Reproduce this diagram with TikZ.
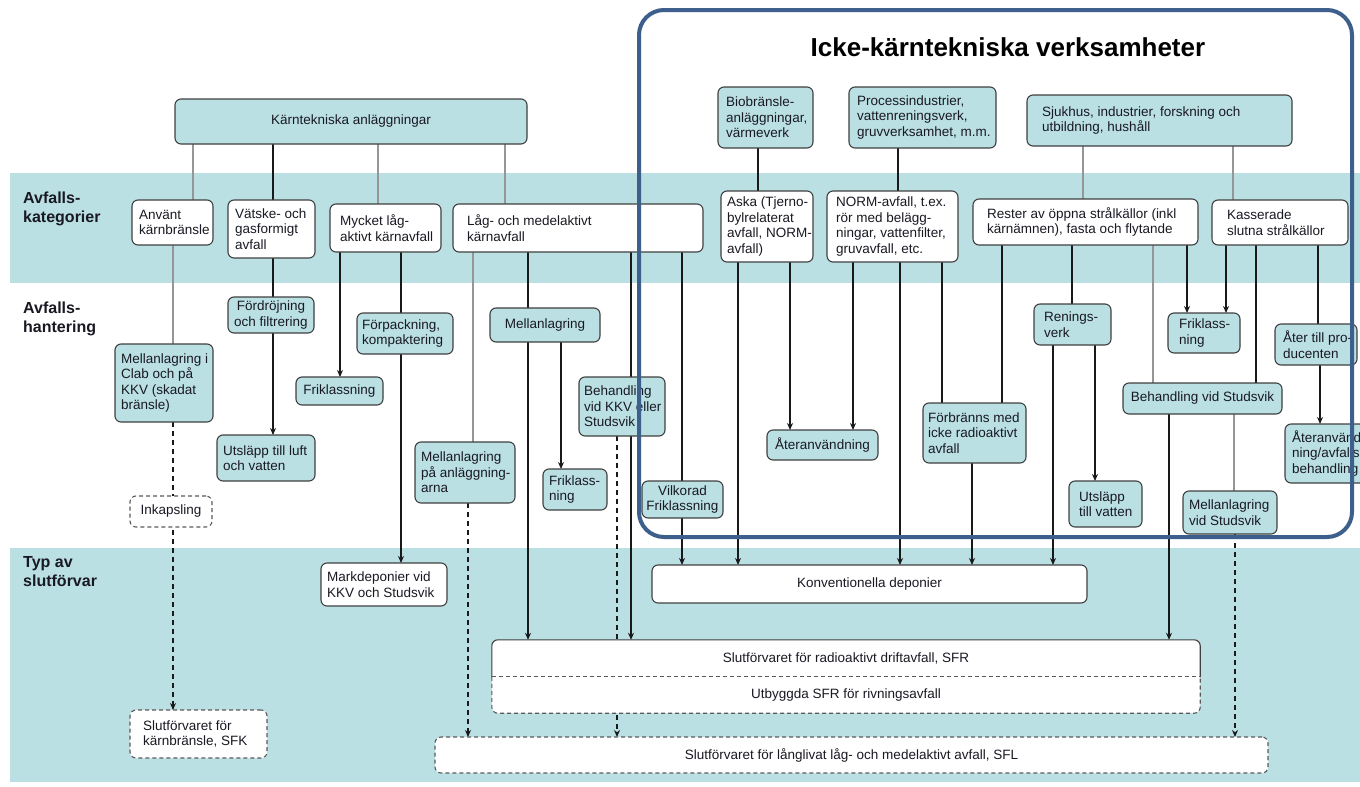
\documentclass[tikz,border=0pt]{standalone}
\usepackage{fontspec}
\setmainfont{Liberation Sans}
\usetikzlibrary{arrows.meta}
\definecolor{tealc}{RGB}{186,224,228}
\definecolor{bordc}{RGB}{64,64,64}
\definecolor{dashc}{RGB}{90,90,90}
\definecolor{txtc}{RGB}{25,25,35}
\definecolor{blackc}{RGB}{25,25,25}
\definecolor{grayc}{RGB}{150,150,150}
\definecolor{framec}{RGB}{61,95,140}
\pgfdeclarelayer{bg}\pgfdeclarelayer{lines}\pgfdeclarelayer{front}
\pgfsetlayers{bg,lines,main,front}
\newcommand\bxfont{\fontsize{13.5}{15.6}\selectfont}
\tikzset{
 bxs/.style={draw=bordc, line width=1.1pt, rounded corners=6pt, inner sep=0pt, outer sep=0pt},
 tealbox/.style={bxs, fill=tealc},
 whitebox/.style={bxs, fill=white},
 dashbox/.style={bxs, fill=white, draw=dashc, dash pattern=on 4pt off 3pt},
 txt/.style={inner sep=0pt, align=left, font=\bxfont, text=txtc},
 lab/.style={inner sep=0pt, align=left, font=\bfseries\fontsize{16}{19}\selectfont, text=txtc, anchor=west},
 blk/.style={draw=blackc, line width=1.3pt},
 gry/.style={draw=grayc, line width=1.2pt},
 dsh/.style={draw=blackc, line width=1.4pt, dash pattern=on 5pt off 4pt},
 arr/.style={-{Stealth[length=7pt,width=6pt]}},
}
\newcommand\bxl[8]{%
  \pgfmathsetmacro\bxw{#4-#2}\pgfmathsetmacro\bxh{#5-#3}%
  \node[#6, minimum width=\bxw pt, minimum height=\bxh pt] (#1) at ({(#2+#4)/2},{(#3+#5)/2}) {};%
  \node[txt, anchor=west] (#1-t) at ({#2+#7},{(#3+#5)/2}) {#8};}
\newcommand\bxc[7]{%
  \pgfmathsetmacro\bxw{#4-#2}\pgfmathsetmacro\bxh{#5-#3}%
  \node[#6, minimum width=\bxw pt, minimum height=\bxh pt, align=center, font=\bxfont, text=txtc] (#1) at ({(#2+#4)/2},{(#3+#5)/2}) {#7};}
\newcommand\vl[4]{\draw[#1] (#2,0 |- #3.south) -- (#2,0 |- #4.north);}
\begin{document}
\begin{tikzpicture}[x=1pt,y=-1pt]
\useasboundingbox (0,0) rectangle (1360,787);
\begin{pgfonlayer}{bg}
\fill[white] (0,0) rectangle (1360,787);
\fill[tealc] (10,173) rectangle (1360,283);
\fill[tealc] (10,548) rectangle (1360,782);
\end{pgfonlayer}
\clip (0,0) rectangle (1360,787);
% left labels
\node[lab] (l1) at (23,209) {Avfalls-\\kategorier};
\node[lab] (l2) at (23,319) {Avfalls-\\hantering};
\node[lab] (l3) at (23,572) {Typ av\\slutförvar};
% title
\node[font=\bfseries\fontsize{26}{30}\selectfont, text=black, inner sep=0pt] (title) at (1008,47) {Icke-kärntekniska verksamheter};
% boxes
\bxc{kta}{175}{99}{527}{144}{tealbox}{Kärntekniska anläggningar}
\bxl{anv}{132}{200}{213}{245}{whitebox}{7}{Använt\\kärnbränsle}
\bxl{vat}{228}{200}{315}{258}{whitebox}{7}{Vätske- och\\gasformigt\\avfall}
\bxl{myc}{330}{204}{441}{252}{whitebox}{10}{Mycket låg-\\aktivt kärnavfall}
\bxl{lag}{453}{204}{703}{252}{whitebox}{14}{Låg- och medelaktivt\\kärnavfall}
\bxl{clab}{115}{344}{213}{422}{tealbox}{6}{Mellanlagring i\\Clab och på\\KKV (skadat\\bränsle)}
\bxc{ford}{228}{297}{314}{333}{tealbox}{Fördröjning\\och filtrering}
\bxl{utl}{217}{435}{315}{481}{tealbox}{6}{Utsläpp till luft\\och vatten}
\bxc{frka}{296}{377}{383}{405}{tealbox}{Friklassning}
\bxl{forp}{357}{313}{453}{354}{tealbox}{5}{Förpackning,\\kompaktering}
\bxc{inka}{130}{496}{212}{527}{dashbox}{Inkapsling}
\bxc{mell}{490}{308}{600}{342}{tealbox}{Mellanlagring}
\bxl{mpa}{415}{442}{515}{503}{tealbox}{6}{Mellanlagring\\på anläggning-\\arna}
\bxl{bkkv}{579}{377}{665}{436}{tealbox}{5}{Behandling\\vid KKV eller\\Studsvik}
\bxl{frkb}{543}{469}{607}{510}{tealbox}{6}{Friklass-\\ning}
\bxc{vilk}{642}{481}{723}{518}{tealbox}{Vilkorad\\Friklassning}
\bxl{bio}{718}{87}{813}{148}{tealbox}{8}{Biobränsle-\\anläggningar,\\värmeverk}
\bxl{proc}{849}{87}{996}{148}{tealbox}{8}{Processindustrier,\\vattenreningsverk,\\gruvverksamhet, m.m.}
\bxl{sjuk}{1027}{95}{1292}{146}{tealbox}{15}{Sjukhus, industrier, forskning och\\utbildning, hushåll}
\bxl{aska}{721}{191}{813}{262}{whitebox}{6}{Aska (Tjerno-\\bylrelaterat\\avfall, NORM-\\avfall)}
\bxl{norm}{827}{191}{958}{262}{whitebox}{9}{NORM-avfall, t.ex.\\rör med belägg-\\ningar, vattenfilter,\\gruvavfall, etc.}
\bxl{rest}{973}{199}{1198}{245}{whitebox}{14}{Rester av öppna strålkällor (inkl\\kärnämnen), fasta och flytande}
\bxl{kass}{1212}{200}{1348}{245}{whitebox}{15}{Kasserade\\slutna strålkällor}
\bxc{ater}{767}{430}{878}{460}{tealbox}{Återanvändning}
\bxl{forb}{923}{403}{1026}{463}{tealbox}{5}{Förbränns med\\icke radioaktivt\\avfall}
\bxl{ren}{1034}{304}{1111}{345}{tealbox}{10}{Renings-\\verk}
\bxl{utv}{1069}{481}{1142}{527}{tealbox}{10}{Utsläpp\\till vatten}
\bxl{frkc}{1168}{313}{1240}{353}{tealbox}{11}{Friklass-\\ning}
\bxc{bst}{1123}{383}{1282}{414}{tealbox}{Behandling vid Studsvik}
\bxl{mst}{1183}{491}{1277}{534}{tealbox}{6}{Mellanlagring\\vid Studsvik}
\bxl{atp}{1275}{324}{1357}{365}{tealbox}{8}{Åter till pro-\\ducenten}
\bxl{ate}{1285}{424}{1380}{483}{tealbox}{7}{Återanvänd-\\ning/avfalls-\\behandling}
\bxl{mark}{321}{563}{447}{606}{whitebox}{6}{Markdeponier vid\\KKV och Studsvik}
\bxl{sfk}{130}{710}{267}{758}{dashbox}{13}{Slutförvaret för\\kärnbränsle, SFK}
\bxc{konv}{652}{565}{1087}{603}{whitebox}{Konventionella deponier}
% SFR + Utbyggda
\fill[white, rounded corners=6pt] (492,640) rectangle (1200,713);
\node[inner sep=0pt, minimum width=708pt, minimum height=37pt, font=\bxfont, text=txtc] (sfr) at (846,658.5) {Slutförvaret för radioaktivt driftavfall, SFR};
\node[inner sep=0pt, minimum width=708pt, minimum height=36pt, font=\bxfont, text=txtc] (utb) at (846,695) {Utbyggda SFR för rivningsavfall};
\draw[draw=bordc, line width=1.1pt, rounded corners=6pt] (sfr.south west) -- (sfr.north west) -- (sfr.north east) -- (sfr.south east);
\draw[draw=dashc, line width=1.1pt, dash pattern=on 4pt off 3pt, rounded corners=6pt] (utb.north west) -- (utb.south west) -- (utb.south east) -- (utb.north east);
\draw[draw=dashc, line width=1.1pt, dash pattern=on 4pt off 3pt] (utb.north west) -- (utb.north east);
\bxc{sfl}{435}{737}{1268}{773}{dashbox}{Slutförvaret för långlivat låg- och medelaktivt avfall, SFL}
% connectors
\begin{pgfonlayer}{lines}
\vl{gry}{193}{kta}{anv}
\vl{gry}{378}{kta}{myc}
\vl{gry}{505}{kta}{lag}
\vl{gry}{173}{anv}{clab}
\vl{gry}{473}{lag}{mpa}
\vl{gry}{1083}{sjuk}{rest}
\vl{gry}{1233}{sjuk}{kass}
\vl{gry}{1153}{rest}{bst}
\vl{gry}{1234}{bst}{mst}
\vl{blk}{273}{kta}{vat}
\vl{blk,arr}{273}{vat}{utl}
\vl{blk,arr}{340}{myc}{frka}
\vl{blk,arr}{401}{myc}{mark}
\vl{blk,arr}{528}{lag}{sfr}
\vl{blk,arr}{561}{mell}{frkb}
\vl{blk,arr}{631}{lag}{sfr}
\vl{blk,arr}{682}{lag}{konv}
\vl{blk}{758}{bio}{aska}
\vl{blk}{898}{proc}{norm}
\vl{blk,arr}{738}{aska}{konv}
\vl{blk,arr}{790}{aska}{ater}
\vl{blk,arr}{853}{norm}{ater}
\vl{blk,arr}{900}{norm}{konv}
\vl{blk}{942}{norm}{forb}
\vl{blk}{1002}{rest}{forb}
\vl{blk,arr}{972}{forb}{konv}
\vl{blk}{1072}{rest}{ren}
\vl{blk,arr}{1053}{ren}{konv}
\vl{blk,arr}{1095}{ren}{utv}
\vl{blk,arr}{1187}{rest}{frkc}
\vl{blk,arr}{1226}{kass}{frkc}
\vl{blk}{1256}{kass}{bst}
\vl{blk}{1318}{kass}{atp}
\vl{blk,arr}{1320}{atp}{ate}
\vl{blk,arr}{1169}{bst}{sfr}
\vl{dsh,arr}{173}{clab}{sfk}
\vl{dsh,arr}{468}{mpa}{sfl}
\vl{dsh,arr}{617}{bkkv}{sfl}
\vl{dsh,arr}{1235}{mst}{sfl}
\end{pgfonlayer}
% frame
\begin{pgfonlayer}{front}
\draw[framec, line width=4pt, rounded corners=25pt] (639,10) rectangle (1352,537);
\end{pgfonlayer}
\end{tikzpicture}
\end{document}
